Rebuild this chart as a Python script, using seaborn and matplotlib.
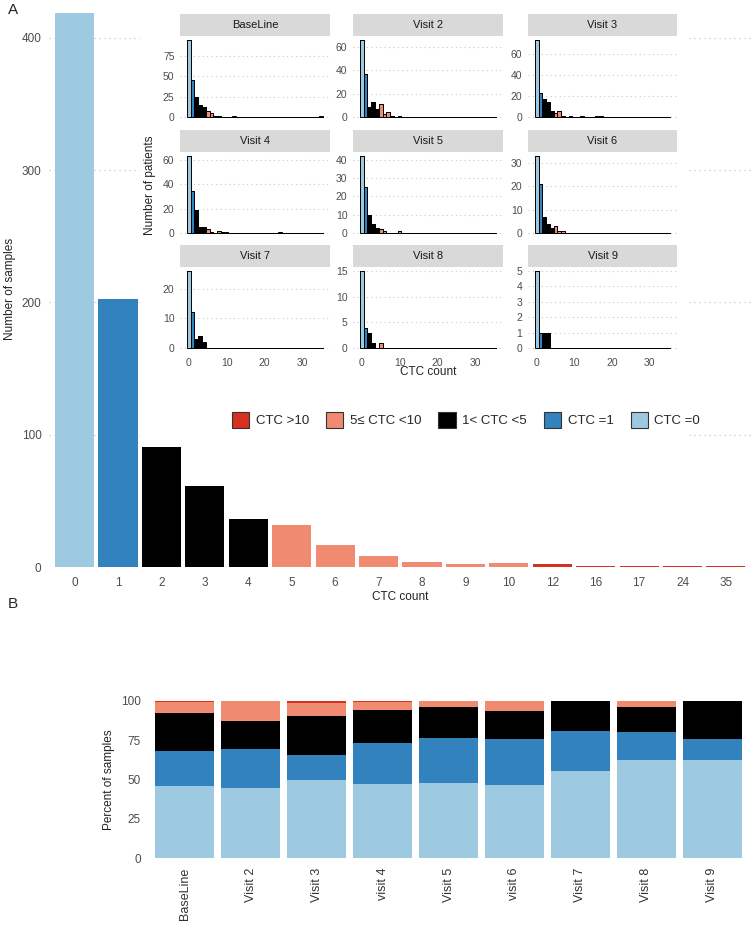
import numpy as np
import pandas as pd
import matplotlib
matplotlib.use("Agg")
import matplotlib.pyplot as plt
from matplotlib.patches import Patch, Rectangle
import seaborn as sns

# ---- groups and colours ----
GROUPS = ["CTC >10", "5\u2264 CTC <10", "1< CTC <5", "CTC =1", "CTC =0"]
COLORS = ["#d7301f", "#f08a70", "#000000", "#3182bd", "#9ecae1"]
PALETTE = dict(zip(GROUPS, COLORS))

# ---- panel A: number of samples per CTC count ----
ctc_levels = ["0", "1", "2", "3", "4", "5", "6", "7", "8", "9", "10", "12", "16", "17", "24", "35"]
n_samples = [419, 203, 91, 61, 36, 32, 17, 8, 4, 2, 3, 2, 1, 1, 1, 1]
a_yticks = [0, 100, 200, 300, 400]

# ---- panel A inset: patients per CTC count, per visit ----
visits = ["BaseLine", "Visit 2", "Visit 3", "Visit 4", "Visit 5", "Visit 6", "Visit 7", "Visit 8", "Visit 9"]
baseline_ctc = [0, 1, 2, 3, 4, 5, 6, 7, 8, 12, 35]
baseline_n = [95, 46, 25, 15, 13, 7, 5, 2, 1, 1, 1]
visit2_ctc = [0, 1, 2, 3, 4, 5, 6, 7, 8, 10]
visit2_n = [66, 37, 9, 13, 7, 11, 3, 4, 1, 1]
visit3_ctc = [0, 1, 2, 3, 4, 5, 6, 7, 9, 12, 16, 17]
visit3_n = [73, 23, 17, 14, 6, 4, 6, 1, 1, 1, 1, 1]
visit4_ctc = [0, 1, 2, 3, 4, 5, 6, 8, 9, 10, 24]
visit4_n = [63, 34, 19, 5, 5, 3, 1, 2, 1, 1, 1]
visit5_ctc = [0, 1, 2, 3, 4, 5, 6, 10]
visit5_n = [42, 25, 10, 5, 3, 2, 1, 1]
visit6_ctc = [0, 1, 2, 3, 4, 5, 6, 7]
visit6_n = [33, 21, 7, 4, 2, 3, 1, 1]
visit7_ctc = [0, 1, 2, 3, 4]
visit7_n = [26, 12, 3, 4, 2]
visit8_ctc = [0, 1, 2, 3, 5]
visit8_n = [15, 4, 3, 1, 1]
visit9_ctc = [0, 1, 2, 3]
visit9_n = [5, 1, 1, 1]
facet_yticks = [[0, 25, 50, 75], [0, 20, 40, 60], [0, 20, 40, 60],
                [0, 20, 40, 60], [0, 10, 20, 30, 40], [0, 10, 20, 30],
                [0, 10, 20], [0, 5, 10, 15], [0, 1, 2, 3, 4, 5]]
facet_xticks = [0, 10, 20, 30]
max_ctc = 35

# ---- panel B: percent of samples per visit ----
visits_b = ["BaseLine", "Visit 2", "Visit 3", "visit 4", "Visit 5", "visit 6", "Visit 7", "Visit 8", "Visit 9"]
pct_0 = [46.0, 44.6, 50.0, 47.2, 47.7, 46.4, 55.6, 62.5, 62.5]
pct_1 = [22.0, 24.6, 15.7, 26.0, 28.6, 29.5, 25.5, 17.5, 13.5]
pct_2_4 = [24.5, 18.3, 24.5, 21.0, 19.6, 17.9, 18.9, 16.4, 24.0]
pct_5_10 = [6.5, 12.5, 8.5, 5.3, 4.1, 6.2, 0.0, 3.6, 0.0]
pct_gt10 = [1.0, 0.0, 1.3, 0.5, 0.0, 0.0, 0.0, 0.0, 0.0]
b_yticks = [0, 25, 50, 75, 100]


def ctc_group(v):
    if v == 0:
        return "CTC =0"
    if v == 1:
        return "CTC =1"
    if v < 5:
        return "1< CTC <5"
    if v <= 10:
        return "5\u2264 CTC <10"
    return "CTC >10"


sns.set_style("white")
plt.rcParams["font.family"] = ["Liberation Sans", "DejaVu Sans"]
TXT = "#4d4d4d"
GRID = "#c8c8c8"

W, H = 752, 942
fig = plt.figure(figsize=(W / 100, H / 100), dpi=100)


def box(l, t, r, b):
    return [l / W, 1 - b / H, (r - l) / W, (b - t) / H]


# ================= panel A =================
px_per_unit = 529 / 400
axA = fig.add_axes(box(48.5, 567 - 420 * px_per_unit, 752, 567))
groups_main = [ctc_group(int(v)) for v in ctc_levels]
sns.barplot(x=ctc_levels, y=n_samples, hue=groups_main, order=ctc_levels,
            hue_order=GROUPS, palette=PALETTE, dodge=False, width=0.9,
            saturation=1, errorbar=None, legend=False, linewidth=0, ax=axA)
axA.set_xlim(-0.6, len(ctc_levels) - 0.4)
axA.set_ylim(0, 420)
axA.set_yticks(a_yticks)
axA.set_axisbelow(True)
axA.grid(axis="y", linestyle=(0, (1, 3)), color=GRID, linewidth=0.9)
axA.grid(axis="x", visible=False)
sns.despine(ax=axA, left=True, bottom=True)
axA.tick_params(axis="both", length=3, width=0.6, color="#666666",
                labelsize=8.5, labelcolor=TXT, pad=2)
axA.tick_params(axis="x", pad=4)
axA.set_xlabel("CTC count", fontsize=8.5, color="#222222", labelpad=2)
axA.set_ylabel("Number of samples", fontsize=8.5, color="#222222", labelpad=4)

# white background of the inset
fig.add_artist(Rectangle((140 / W, 1 - 440 / H), (688 - 140) / W, 440 / H,
                         transform=fig.transFigure, facecolor="white",
                         edgecolor="none", zorder=1))

# ---- inset facets ----
facet_data = [(baseline_ctc, baseline_n), (visit2_ctc, visit2_n), (visit3_ctc, visit3_n),
              (visit4_ctc, visit4_n), (visit5_ctc, visit5_n), (visit6_ctc, visit6_n),
              (visit7_ctc, visit7_n), (visit8_ctc, visit8_n), (visit9_ctc, visit9_n)]
col_x = [(180, 330), (353, 503), (528, 677)]
row_top = [14, 130, 245]
strip_h, panel_h = 22, 85

for i, (visit, (cx, cn)) in enumerate(zip(visits, facet_data)):
    r, c = divmod(i, 3)
    l, rr = col_x[c]
    t = row_top[r]
    fig.add_artist(Rectangle((l / W, 1 - (t + strip_h) / H), (rr - l) / W, strip_h / H,
                             transform=fig.transFigure, facecolor="#d9d9d9",
                             edgecolor="none", zorder=3))
    fig.text((l + rr) / 2 / W, 1 - (t + strip_h / 2) / H, visit, ha="center",
             va="center", fontsize=8, color="#1a1a1a", zorder=4)

    counts = pd.Series(cn, index=cx).reindex(range(max_ctc + 1), fill_value=0)
    df = pd.DataFrame({"ctc": counts.index, "n": counts.values})
    df["grp"] = [ctc_group(v) for v in df["ctc"]]

    ax = fig.add_axes(box(l, t + strip_h, rr, t + strip_h + panel_h))
    ax.set_zorder(2)
    sns.histplot(data=df, x="ctc", weights="n", hue="grp", hue_order=GROUPS,
                 palette=PALETTE, discrete=True, multiple="stack", alpha=1,
                 edgecolor="black", linewidth=0.7, legend=False, ax=ax)
    ymax = max(cn)
    ax.set_xlim(-2.3, max_ctc + 2.3)
    ax.set_ylim(-0.05 * ymax, 1.05 * ymax)
    ax.set_yticks(facet_yticks[i])
    ax.set_xticks(facet_xticks)
    ax.set_xlabel("")
    ax.set_ylabel("")
    ax.set_axisbelow(True)
    ax.grid(axis="y", linestyle=(0, (1, 3)), color=GRID, linewidth=0.8)
    ax.grid(axis="x", visible=False)
    sns.despine(ax=ax, left=True, bottom=True)
    ax.tick_params(axis="both", length=2.5, width=0.6, color="#666666",
                   labelsize=7.5, labelcolor=TXT, pad=1.5)
    if r < 2:
        ax.tick_params(axis="x", length=0, labelbottom=False)

fig.text(150 / W, 1 - 185 / H, "Number of patients", rotation=90, ha="center",
         va="center", fontsize=8.5, color="#222222", zorder=4)
fig.text(428 / W, 1 - 372 / H, "CTC count", ha="center", va="center",
         fontsize=8.5, color="#222222", zorder=4)

handles = [Patch(facecolor=PALETTE[g], edgecolor="#333333", linewidth=0.8) for g in GROUPS]
fig.legend(handles, GROUPS, loc="center", bbox_to_anchor=(466 / W, 1 - 420 / H),
           ncol=5, frameon=False, fontsize=9.5, handlelength=1.3, handleheight=1.5,
           columnspacing=1.3, handletextpad=0.5, borderaxespad=0)

# ================= panel B =================
axB = fig.add_axes(box(145, 693, 752, 866))
layers = [pct_0, pct_1, pct_2_4, pct_5_10, pct_gt10]
layer_groups = ["CTC =0", "CTC =1", "1< CTC <5", "5\u2264 CTC <10", "CTC >10"]
cum = np.cumsum(np.array(layers), axis=0)
for k in range(len(layers) - 1, -1, -1):
    sns.barplot(x=visits_b, y=cum[k], order=visits_b, color=PALETTE[layer_groups[k]],
                width=0.9, saturation=1, errorbar=None, linewidth=0, ax=axB)
axB.set_xlim(-0.6, len(visits_b) - 0.4)
axB.set_ylim(-5, 105)
axB.set_yticks(b_yticks)
sns.despine(ax=axB, left=True, bottom=True)
axB.tick_params(axis="both", length=0, labelsize=8.5, labelcolor=TXT, pad=3)
axB.tick_params(axis="x", labelrotation=90, labelcolor="#333333", labelsize=9, pad=1)
axB.set_ylabel("Percent of samples", fontsize=8.5, color="#222222", labelpad=4)
axB.set_xlabel("")

fig.text(8 / W, 1 - 10 / H, "A", fontsize=11, ha="left", va="center")
fig.text(8 / W, 1 - 604 / H, "B", fontsize=11, ha="left", va="center")

fig.savefig("out.png", dpi=100)
